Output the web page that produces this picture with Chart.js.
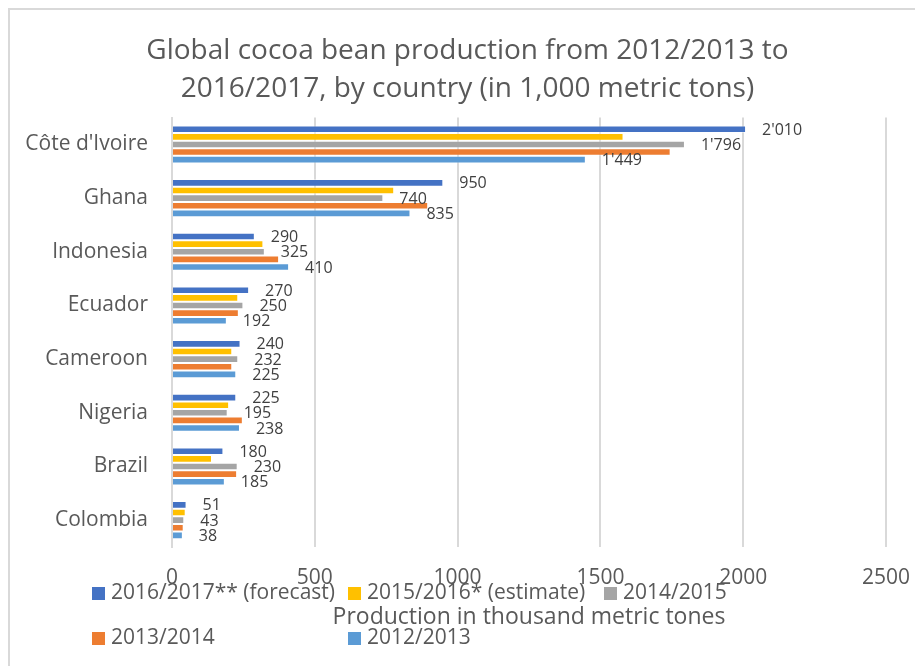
<!DOCTYPE html>
<html lang="en">
<head>
    <meta charset="UTF-8">
    <title>Cocoa production</title>
    <script src="https://cdn.jsdelivr.net/npm/chart.js@4.4.1/dist/chart.umd.min.js"></script>
    <style>
        body { margin: 0; background: #fff; }
        canvas { display: block; }
    </style>
</head>
<body>
    <canvas id="cocoaChart" width="915" height="666"></canvas>

<script>
    // production in 1,000 metric tons
    let countries = ["Côte d'Ivoire", "Ghana", "Indonesia", "Ecuador", "Cameroon", "Nigeria", "Brazil", "Colombia"];
    let seasons = ["2016/2017** (forecast)", "2015/2016* (estimate)", "2014/2015", "2013/2014", "2012/2013"];
    let prod1617 = [2010, 950, 290, 270, 240, 225, 180, 51];
    let prod1516 = [1581, 778, 320, 232, 211, 200, 140, 48];
    let prod1415 = [1796, 740, 325, 250, 232, 195, 230, 43];
    let prod1314 = [1746, 897, 375, 234, 211, 248, 228, 41];
    let prod1213 = [1449, 835, 410, 192, 225, 238, 185, 38];
    let xTicks = [0, 500, 1000, 1500, 2000, 2500];

    let colors = ["#4472C4", "#FFC000", "#A5A5A5", "#ED7D31", "#5B9BD5"];
    let labelled = [true, false, true, false, true];
    let fontFamily = "'Open Sans', sans-serif";

    function formatValue(v) {
        return String(v).replace(/\B(?=(\d{3})+(?!\d))/g, "'");
    }

    let datasets = [prod1617, prod1516, prod1415, prod1314, prod1213].map(function (values, i) {
        return {
            label: seasons[i],
            data: values,
            backgroundColor: colors[i],
            borderColor: "rgba(255,255,255,0.45)",
            borderWidth: 1,
            categoryPercentage: 0.71,
            barPercentage: 1.0,
            showValues: labelled[i]
        };
    });

    // white background and the frame lines at top and left
    const framePlugin = {
        id: "frame",
        afterLayout(chart) {
            // centre the title a bit right of the canvas middle
            chart.titleBlock.left = 48;
            chart.titleBlock.right = 887;
        },
        beforeDraw(chart) {
            let ctx = chart.ctx;
            ctx.save();
            ctx.fillStyle = "#ffffff";
            ctx.fillRect(0, 0, chart.width, chart.height);
            ctx.strokeStyle = "#d9d9d9";
            ctx.lineWidth = 2;
            ctx.beginPath();
            ctx.moveTo(9, chart.height);
            ctx.lineTo(9, 9);
            ctx.lineTo(chart.width, 9);
            ctx.stroke();
            ctx.restore();
        }
    };

    // value labels next to the bar ends
    const valueLabels = {
        id: "valueLabels",
        afterDatasetsDraw(chart) {
            let ctx = chart.ctx;
            ctx.save();
            ctx.font = "16px " + fontFamily;
            ctx.fillStyle = "#404040";
            ctx.textAlign = "left";
            ctx.textBaseline = "middle";
            chart.data.datasets.forEach(function (ds, i) {
                if (!ds.showValues) return;
                chart.getDatasetMeta(i).data.forEach(function (bar, j) {
                    ctx.fillText(formatValue(ds.data[j]), bar.x + 16, bar.y + 1);
                });
            });
            ctx.restore();
        }
    };

    // two-row legend below the axis
    const bottomLegend = {
        id: "bottomLegend",
        afterDraw(chart) {
            let ctx = chart.ctx;
            let slots = [[92, 593], [348, 593], [604, 593], [92, 638], [348, 638]];
            ctx.save();
            ctx.font = "21px " + fontFamily;
            ctx.textAlign = "left";
            ctx.textBaseline = "middle";
            chart.data.datasets.forEach(function (ds, i) {
                let p = slots[i];
                ctx.fillStyle = ds.backgroundColor;
                ctx.fillRect(p[0], p[1] - 6, 13, 13);
                ctx.fillStyle = "#595959";
                ctx.fillText(ds.label, p[0] + 19, p[1]);
            });
            ctx.restore();
        }
    };

    new Chart("cocoaChart", {
        type: "bar",
        data: {
            labels: countries,
            datasets: datasets
        },
        plugins: [framePlugin, valueLabels, bottomLegend],
        options: {
            indexAxis: "y",
            responsive: false,
            animation: false,
            layout: {
                padding: { left: 10, right: 29, top: 0, bottom: 0 }
            },
            plugins: {
                legend: { display: false },
                tooltip: { enabled: false },
                title: {
                    display: true,
                    text: ["Global cocoa bean production from 2012/2013 to",
                           "2016/2017, by country (in 1,000 metric tons)"],
                    color: "#595959",
                    font: { family: fontFamily, size: 28, weight: "normal", lineHeight: 1.35 },
                    padding: { top: 32, bottom: 10 }
                }
            },
            scales: {
                x: {
                    min: 0,
                    max: 2500,
                    afterBuildTicks(scale) {
                        scale.ticks = xTicks.map(function (v) { return { value: v }; });
                    },
                    afterFit(scale) {
                        scale.height = 119;
                        scale.paddingLeft = 0;
                        scale.paddingRight = 0;
                    },
                    grid: { color: "#d9d9d9", lineWidth: 2, drawTicks: false },
                    border: { display: false },
                    ticks: {
                        color: "#595959",
                        padding: 18,
                        font: { family: fontFamily, size: 21 },
                        callback: function (v) { return String(v); }
                    },
                    title: {
                        display: true,
                        text: "Production in thousand metric tones",
                        color: "#595959",
                        font: { family: fontFamily, size: 23 },
                        padding: { top: 0, bottom: 35 }
                    }
                },
                y: {
                    afterFit(scale) { scale.width = 162; },
                    grid: { display: false, drawTicks: false },
                    border: { display: true, color: "#d9d9d9", width: 2 },
                    ticks: {
                        color: "#595959",
                        padding: 24,
                        font: { family: fontFamily, size: 21 }
                    }
                }
            }
        }
    });
</script>
</body>
</html>
